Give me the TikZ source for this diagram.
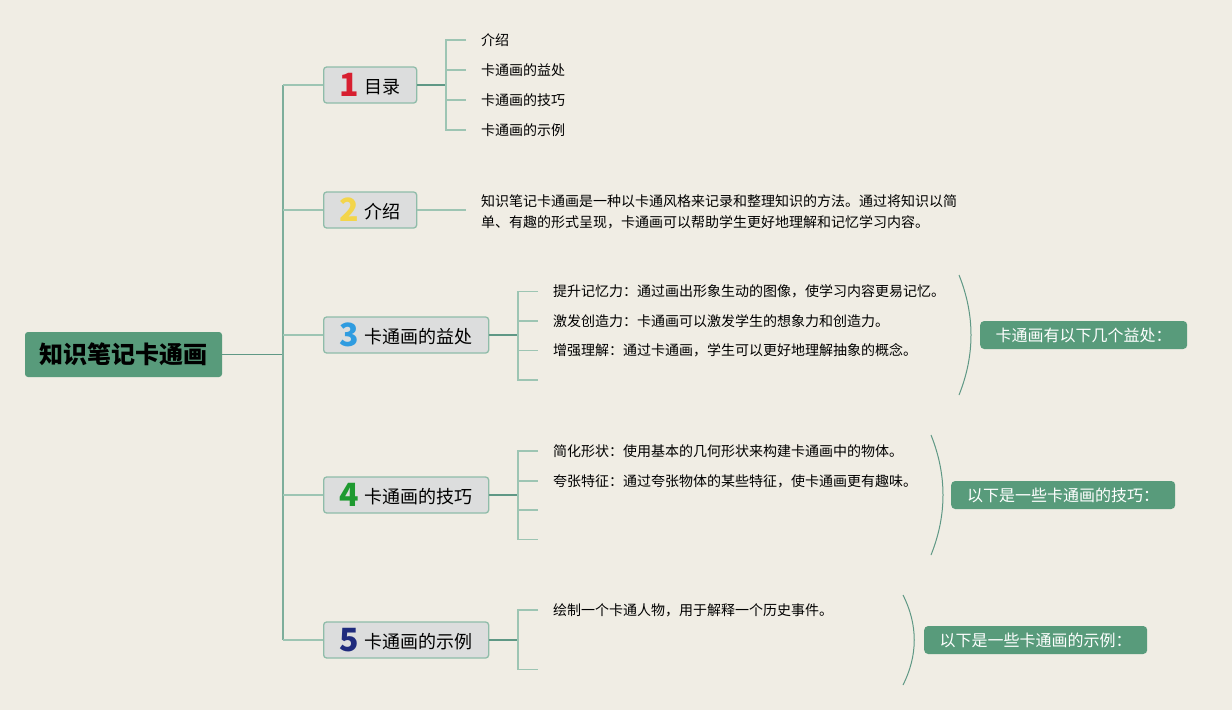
\documentclass[tikz,border=0pt]{standalone}
\usepackage{fontspec}
\setmainfont{Noto Sans CJK SC}
\definecolor{bg}{HTML}{F0EDE4}
\definecolor{mgreen}{HTML}{589B7B}
\definecolor{boxfill}{HTML}{DCDDDD}
\definecolor{boxline}{HTML}{8FBCA9}
\definecolor{trunkc}{HTML}{7DAE9B}
\definecolor{dline}{HTML}{5F9885}
\definecolor{tickc}{HTML}{9DC5B3}
\definecolor{n1}{HTML}{D71F30}
\definecolor{n2}{HTML}{F3D54B}
\definecolor{n3}{HTML}{2F9CE0}
\definecolor{n4}{HTML}{1E9A30}
\definecolor{n5}{HTML}{1F2B7D}
\newcommand\tnum[2]{\raisebox{-3pt}{\fontsize{32}{32}\selectfont\bfseries\color{#1}#2}}
\begin{document}
\begin{tikzpicture}[x=1pt,y=-1pt,
  topic/.style={draw=boxline, line width=1.3pt, fill=boxfill, rounded corners=3pt,
    minimum height=36pt, inner sep=0pt, anchor=west, font=\fontsize{18}{18}\selectfont},
  leaf/.style={anchor=west, inner xsep=0pt, inner ysep=1pt, font=\fontsize{14}{21}\selectfont, align=left},
  summ/.style={fill=mgreen, rounded corners=4pt, text=white, minimum height=28pt,
    anchor=west, inner sep=0pt, font=\fontsize{16}{16}\selectfont},
  trunkline/.style={draw=trunkc, line width=1.5pt},
  branchline/.style={draw=tickc, line width=1.5pt},
  darkline/.style={draw=dline, line width=1.8pt},
  tickline/.style={draw=tickc, line width=1.5pt},
  brace/.style={draw=dline, line width=1pt}
]
\fill[bg] (0,0) rectangle (1232,710);
\useasboundingbox (0,0) rectangle (1232,710);

% root
\node[fill=mgreen, rounded corners=3pt, minimum width=197pt, minimum height=45pt, inner sep=0pt,
  font=\fontsize{24}{24}\selectfont\bfseries] (root) at (123.5,354.5) {知识笔记卡通画};

% topics
\node[topic, minimum width=93pt] (b1) at (323,85) {\tnum{n1}{1}\hspace{5pt}目录};
\node[topic, minimum width=93pt] (b2) at (323,210) {\tnum{n2}{2}\hspace{5pt}介绍};
\node[topic, minimum width=165pt] (b3) at (323,335) {\tnum{n3}{3}\hspace{5pt}卡通画的益处};
\node[topic, minimum width=165pt] (b4) at (323,495) {\tnum{n4}{4}\hspace{5pt}卡通画的技巧};
\node[topic, minimum width=165pt] (b5) at (323,640) {\tnum{n5}{5}\hspace{5pt}卡通画的示例};

% trunk
\coordinate (tr) at (283,354.5);
\coordinate (t1) at (283,85);
\coordinate (t5) at (283,640);
\draw[darkline] (root.east) -- (tr);
\draw[trunkline] (t1) -- (t5);
\foreach \b in {b1,b2,b3,b4,b5}{\draw[branchline] (t1|-\b.west) -- (\b.west);}

% topic 1 leaves
\node[leaf] (l11) at (481,40) {介绍};
\node[leaf] (l12) at (481,70) {卡通画的益处};
\node[leaf] (l13) at (481,100) {卡通画的技巧};
\node[leaf] (l14) at (481,130) {卡通画的示例};
\coordinate (j1) at (446,85);
\draw[darkline] (b1.east) -- (j1);
\draw[tickline] ([xshift=-15pt]l11.west) -| (j1) |- ([xshift=-15pt]l14.west);
\draw[tickline] (j1|-l12.west) -- ([xshift=-15pt]l12.west);
\draw[tickline] (j1|-l13.west) -- ([xshift=-15pt]l13.west);

% topic 2
\node[leaf] (l21) at (481,211.5) {知识笔记卡通画是一种以卡通风格来记录和整理知识的方法。通过将知识以简\\单、有趣的形式呈现，卡通画可以帮助学生更好地理解和记忆学习内容。};
\draw[branchline] (b2.east) -- ([xshift=-15pt]l21.west|-b2.east);

% topic 3
\node[leaf] (l31) at (553,291.5) {提升记忆力：通过画出形象生动的图像，使学习内容更易记忆。};
\node[leaf] (l32) at (553,321) {激发创造力：卡通画可以激发学生的想象力和创造力。};
\node[leaf] (l33) at (553,350.5) {增强理解：通过卡通画，学生可以更好地理解抽象的概念。};
\coordinate (e34) at (538,380);
\coordinate (j3) at (518,335);
\draw[darkline] (b3.east) -- (j3);
\draw[tickline] ([xshift=-15pt]l31.west) -| (j3) |- (e34);
\draw[tickline] (j3|-l32.west) -- ([xshift=-15pt]l32.west);
\draw[tickline] (j3|-l33.west) -- ([xshift=-15pt]l33.west);
\coordinate (c3a) at (959,275);
\coordinate (c3b) at (959,395);
\draw[brace] (c3a) .. controls (975,315) and (975,355) .. (c3b);
\node[summ, minimum width=207pt] (s3) at (980,335) {卡通画有以下几个益处：};

% topic 4
\node[leaf] (l41) at (553,451) {简化形状：使用基本的几何形状来构建卡通画中的物体。};
\node[leaf] (l42) at (553,481) {夸张特征：通过夸张物体的某些特征，使卡通画更有趣味。};
\coordinate (e43) at (538,510);
\coordinate (e44) at (538,539.5);
\coordinate (j4) at (518,495);
\draw[darkline] (b4.east) -- (j4);
\draw[tickline] ([xshift=-15pt]l41.west) -| (j4) |- (e44);
\draw[tickline] (j4|-l42.west) -- ([xshift=-15pt]l42.west);
\draw[tickline] (j4|-e43) -- (e43);
\coordinate (c4a) at (931,435);
\coordinate (c4b) at (931,555);
\draw[brace] (c4a) .. controls (947,475) and (947,515) .. (c4b);
\node[summ, minimum width=224pt] (s4) at (951,495) {以下是一些卡通画的技巧：};

% topic 5
\node[leaf] (l51) at (553,610) {绘制一个卡通人物，用于解释一个历史事件。};
\coordinate (e53) at (538,669.5);
\coordinate (j5) at (518,640);
\draw[darkline] (b5.east) -- (j5);
\draw[tickline] ([xshift=-15pt]l51.west) -| (j5) |- (e53);
\coordinate (c5a) at (903,595);
\coordinate (c5b) at (903,685);
\draw[brace] (c5a) .. controls (918,625) and (918,655) .. (c5b);
\node[summ, minimum width=223pt] (s5) at (924,640) {以下是一些卡通画的示例：};
\end{tikzpicture}
\end{document}
